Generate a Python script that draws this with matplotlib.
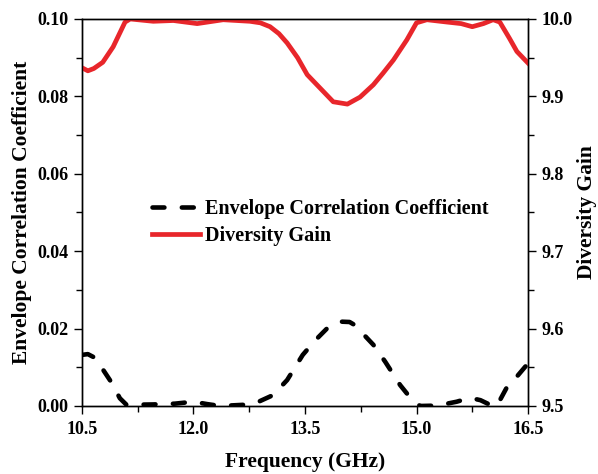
import numpy as np
import matplotlib.pyplot as plt
from matplotlib.ticker import MultipleLocator

plt.rcParams['font.family'] = ['Liberation Serif', 'DejaVu Serif']
plt.rcParams['font.weight'] = 'bold'

# ECC (left axis)
f_ecc = [10.5, 10.58, 10.68, 10.9, 11.01, 11.1, 11.46, 11.75, 12.0, 12.18, 12.36, 12.67,
         12.83, 13.07, 13.26, 13.47, 13.64, 13.8, 13.97, 14.1, 14.17, 14.42, 14.58, 14.78,
         14.96, 15.05, 15.28, 15.54, 15.72, 15.86, 15.99, 16.08, 16.22, 16.35, 16.5]
ecc = [0.0132, 0.0134, 0.0124, 0.0060, 0.0020, 0.0003, 0.0004, 0.0006, 0.0011, 0.0005, 0.0000, 0.0003,
       0.0007, 0.0028, 0.0067, 0.0132, 0.0170, 0.0201, 0.0218, 0.0217, 0.0209, 0.0158, 0.0114, 0.0054,
       0.0011, 0.0000, 0.0001, 0.0011, 0.0021, 0.0015, 0.0003, 0.0000, 0.0050, 0.0076, 0.0110]

# Diversity gain (right axis)
f_dg = [10.5, 10.58, 10.66, 10.78, 10.92, 11.0, 11.08, 11.15, 11.46, 11.73, 12.05, 12.4, 12.76, 12.9,
        13.03, 13.15, 13.26, 13.4, 13.53, 13.7, 13.88, 14.07, 14.24, 14.42, 14.55, 14.69, 14.87,
        15.0, 15.14, 15.41, 15.6, 15.75, 15.9, 16.03, 16.12, 16.25, 16.35, 16.5]
dg = [9.937, 9.933, 9.936, 9.944, 9.964, 9.980, 9.996, 10.0, 9.997, 9.998, 9.994, 9.999, 9.997, 9.995,
      9.990, 9.981, 9.969, 9.950, 9.928, 9.911, 9.893, 9.890, 9.899, 9.915, 9.930, 9.947, 9.973,
      9.995, 9.999, 9.996, 9.994, 9.990, 9.994, 9.999, 9.996, 9.975, 9.958, 9.943]

fig = plt.figure(figsize=(5.98, 4.74), dpi=100)
ax = fig.add_axes([0.137, 0.1435, 0.746, 0.8165])
ax2 = ax.twinx()

l1, = ax.plot(f_ecc, ecc, color='black', lw=3.3, dashes=(2.6, 3.8),
              dash_capstyle='round', label='Envelope Correlation Coefficient')
l2, = ax2.plot(f_dg, dg, color='#e8262b', lw=3.4, solid_joinstyle='round',
               label='Diversity Gain')

ax.set_xlim(10.5, 16.5)
ax.set_ylim(0, 0.10)
ax2.set_ylim(9.5, 10.0)

ax.xaxis.set_major_locator(MultipleLocator(1.5))
ax.xaxis.set_minor_locator(MultipleLocator(0.75))
ax.yaxis.set_major_locator(MultipleLocator(0.02))
ax.yaxis.set_minor_locator(MultipleLocator(0.01))
ax2.yaxis.set_major_locator(MultipleLocator(0.1))
ax2.yaxis.set_minor_locator(MultipleLocator(0.05))
ax.xaxis.set_major_formatter(plt.FormatStrFormatter('%.1f'))
ax.yaxis.set_major_formatter(plt.FormatStrFormatter('%.2f'))
ax2.yaxis.set_major_formatter(plt.FormatStrFormatter('%.1f'))

for a in (ax, ax2):
    a.tick_params(which='major', direction='out', length=6, width=1, labelsize=13)
    a.tick_params(which='minor', direction='out', length=4, width=1)
    for s in a.spines.values():
        s.set_linewidth(1)
ax.tick_params(axis='x', pad=5)

ax.set_xlabel('Frequency (GHz)', fontsize=15.5, fontweight='bold', labelpad=10)
ax.set_ylabel('Envelope Correlation Coefficient', fontsize=15.5, fontweight='bold', labelpad=4)
ax2.set_ylabel('Diversity Gain', fontsize=15.5, fontweight='bold', labelpad=3)

ax2.legend([l1, l2], [l1.get_label(), l2.get_label()], loc='center left',
           bbox_to_anchor=(0.157, 0.475), frameon=False, fontsize=14.5,
           handlelength=2.4, handletextpad=0.25, borderpad=0, borderaxespad=0,
           labelspacing=0.35)

fig.savefig('out.png', dpi=100)
